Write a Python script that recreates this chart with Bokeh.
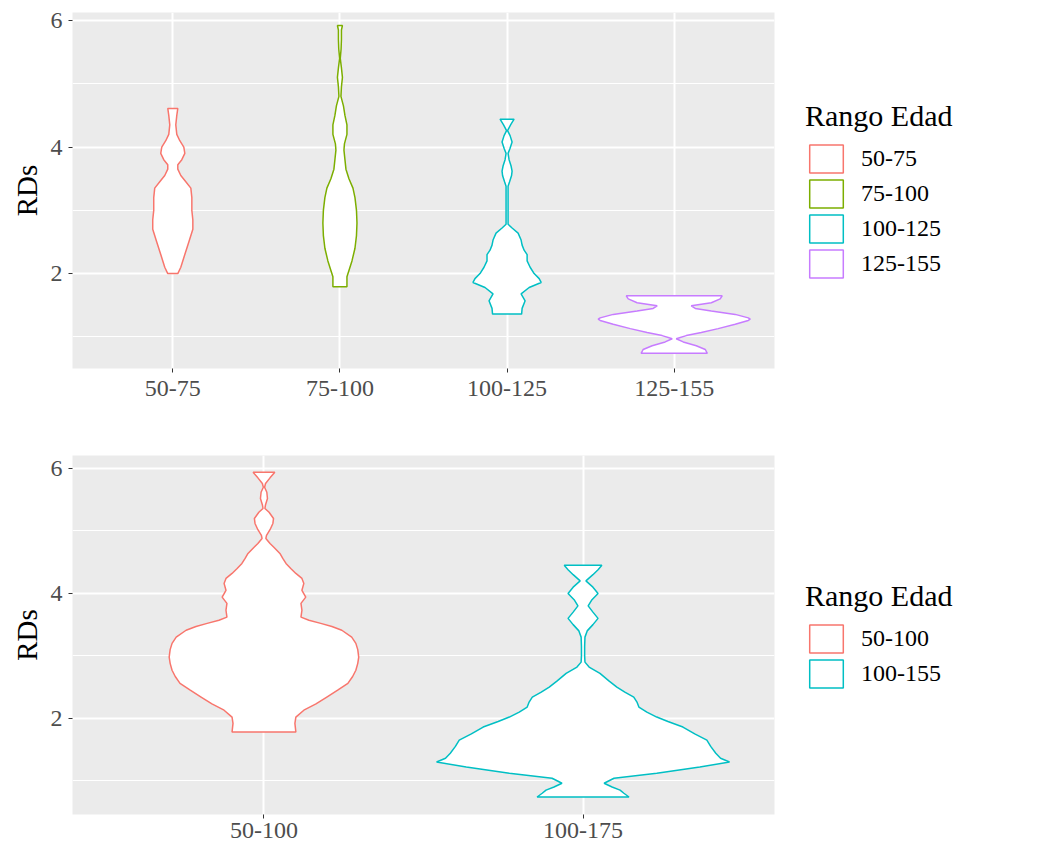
from bokeh.plotting import figure
from bokeh.models import Range1d, FixedTicker, Legend, LegendItem
from bokeh.layouts import column
from bokeh.embed import file_html
from bokeh.resources import INLINE

# ---------------- data ----------------
top_categories = ["50-75", "75-100", "100-125", "125-155"]
top_colors = ["#F8766D", "#7CAE00", "#00BFC4", "#C77CFF"]

# violin outlines: RDs values and half-widths (x-axis units)
v50_75_y = [2.0, 2.1, 2.3, 2.5, 2.7, 2.85, 3.0, 3.2, 3.35, 3.45, 3.55, 3.65, 3.72, 3.8, 3.9, 4.0, 4.1, 4.2, 4.35, 4.5, 4.61]
v50_75_w = [0.030, 0.048, 0.072, 0.096, 0.120, 0.120, 0.114, 0.114, 0.108, 0.078, 0.048, 0.030, 0.030, 0.054, 0.072, 0.066, 0.042, 0.024, 0.018, 0.024, 0.030]

v75_100_y = [1.79, 1.95, 2.05, 2.2, 2.4, 2.6, 2.8, 3.0, 3.2, 3.35, 3.5, 3.65, 3.8, 3.95, 4.05, 4.2, 4.35, 4.5, 4.65, 4.8, 4.95, 5.1, 5.25, 5.4, 5.55, 5.7, 5.85, 5.92]
v75_100_w = [0.042, 0.042, 0.054, 0.072, 0.090, 0.099, 0.102, 0.099, 0.090, 0.078, 0.054, 0.036, 0.030, 0.024, 0.027, 0.042, 0.042, 0.030, 0.021, 0.006, 0.009, 0.015, 0.009, 0.002, 0.007, 0.009, 0.009, 0.015]

v100_125_y = [1.36, 1.45, 1.57, 1.68, 1.78, 1.86, 1.92, 2.0, 2.1, 2.2, 2.3, 2.37, 2.45, 2.53, 2.64, 2.72, 2.78, 2.9, 3.1, 3.3, 3.38, 3.45, 3.55, 3.62, 3.7, 3.8, 3.9, 3.98, 4.08, 4.18, 4.26, 4.35, 4.44]
v100_125_w = [0.087, 0.090, 0.108, 0.084, 0.132, 0.204, 0.192, 0.162, 0.138, 0.120, 0.120, 0.102, 0.090, 0.084, 0.066, 0.030, 0.006, 0.006, 0.006, 0.006, 0.006, 0.015, 0.027, 0.030, 0.024, 0.012, 0.006, 0.018, 0.030, 0.018, 0.003, 0.021, 0.042]

v125_155_y = [0.74, 0.8, 0.86, 0.92, 0.97, 1.02, 1.07, 1.13, 1.2, 1.26, 1.28, 1.3, 1.355, 1.41, 1.45, 1.49, 1.54, 1.6, 1.648]
v125_155_w = [0.198, 0.186, 0.132, 0.054, 0.012, 0.072, 0.162, 0.263, 0.365, 0.443, 0.455, 0.443, 0.365, 0.222, 0.126, 0.102, 0.222, 0.275, 0.287]

bottom_categories = ["50-100", "100-175"]
bottom_legend_labels = ["50-100", "100-155"]
bottom_colors = ["#F8766D", "#00BFC4"]

v50_100_y = [1.78, 1.92, 2.02, 2.13, 2.23, 2.34, 2.45, 2.56, 2.67, 2.77, 2.88, 2.98, 3.1, 3.2, 3.3, 3.41, 3.47, 3.52, 3.57, 3.62, 3.73, 3.84, 3.94, 4.05, 4.16, 4.24, 4.32, 4.4, 4.48, 4.56, 4.64, 4.74, 4.8, 4.88, 4.93, 5.02, 5.12, 5.2, 5.3, 5.36, 5.42, 5.52, 5.62, 5.7, 5.76, 5.85, 5.94]
v50_100_w = [0.100, 0.097, 0.100, 0.125, 0.163, 0.197, 0.231, 0.263, 0.278, 0.288, 0.294, 0.297, 0.294, 0.288, 0.275, 0.244, 0.213, 0.178, 0.141, 0.116, 0.119, 0.116, 0.131, 0.119, 0.125, 0.119, 0.100, 0.084, 0.069, 0.059, 0.050, 0.031, 0.019, 0.006, 0.008, 0.019, 0.028, 0.030, 0.016, 0.003, 0.005, 0.011, 0.009, 0.002, 0.005, 0.019, 0.034]

v100_155_y = [0.74, 0.8, 0.85, 0.9, 0.96, 1.04, 1.12, 1.22, 1.3, 1.36, 1.44, 1.55, 1.65, 1.75, 1.86, 1.95, 2.02, 2.1, 2.18, 2.26, 2.34, 2.42, 2.5, 2.6, 2.72, 2.82, 2.9, 3.0, 3.15, 3.3, 3.4, 3.5, 3.6, 3.7, 3.8, 3.9, 4.0, 4.1, 4.2, 4.3, 4.38, 4.45]
v100_155_w = [0.144, 0.128, 0.116, 0.091, 0.066, 0.097, 0.231, 0.366, 0.459, 0.431, 0.416, 0.400, 0.388, 0.350, 0.313, 0.266, 0.231, 0.200, 0.175, 0.169, 0.159, 0.131, 0.106, 0.081, 0.053, 0.019, 0.006, 0.005, 0.005, 0.006, 0.013, 0.031, 0.047, 0.031, 0.016, 0.028, 0.047, 0.031, 0.009, 0.031, 0.047, 0.059]

y_ticks = [2, 4, 6]
y_minor = [1, 3, 5]

FONT = "Liberation Serif"


def outline(center, ys, ws):
    xs = [center + w for w in ws] + [center - w for w in reversed(ws)]
    yy = list(ys) + list(reversed(ys))
    return xs, yy


def make_panel(categories, profiles, colors, legend_labels, y_lo, y_hi,
               frame_h, border_top, border_bottom, label_standoff):
    n = len(categories)
    p = figure(frame_width=702, frame_height=frame_h,
               x_range=Range1d(0.4, n + 0.6), y_range=Range1d(y_lo, y_hi),
               min_border_left=72, min_border_right=262,
               min_border_top=border_top, min_border_bottom=border_bottom,
               output_backend="svg", toolbar_location=None)
    p.background_fill_color = "#EBEBEB"
    p.border_fill_color = "white"
    p.outline_line_color = None

    items = []
    for i, ((ys, ws), col, lab) in enumerate(zip(profiles, colors, legend_labels)):
        xs, yy = outline(i + 1, ys, ws)
        r = p.patch(xs, yy, fill_color="white", line_color=col, line_width=1.5)
        items.append(LegendItem(label=lab, renderers=[r]))

    p.xaxis.ticker = FixedTicker(ticks=list(range(1, n + 1)))
    p.xaxis.major_label_overrides = {i + 1: c for i, c in enumerate(categories)}
    p.yaxis.ticker = FixedTicker(ticks=y_ticks, minor_ticks=y_minor)
    p.yaxis.axis_label = "RDs"

    for ax in (p.xaxis, p.yaxis):
        ax.axis_line_color = None
        ax.major_tick_line_color = "#333333"
        ax.major_tick_out = 4
        ax.major_tick_in = 0
        ax.minor_tick_line_color = None
        ax.major_label_text_font = FONT
        ax.major_label_text_font_size = "24px"
        ax.major_label_text_color = "#4D4D4D"
    p.xaxis.major_label_standoff = label_standoff
    p.yaxis.major_label_standoff = 6
    p.yaxis.axis_label_text_font = FONT
    p.yaxis.axis_label_text_font_size = "29px"
    p.yaxis.axis_label_text_font_style = "normal"
    p.yaxis.axis_label_text_color = "black"
    p.yaxis.axis_label_standoff = 5

    p.xgrid.grid_line_color = "white"
    p.xgrid.grid_line_width = 2
    p.ygrid.grid_line_color = "white"
    p.ygrid.grid_line_width = 2
    p.ygrid.minor_grid_line_color = "white"
    p.ygrid.minor_grid_line_width = 1

    leg = Legend(items=items, title="Rango Edad", location="center_left")
    leg.title_text_font = FONT
    leg.title_text_font_size = "30px"
    leg.title_text_font_style = "normal"
    leg.title_text_color = "black"
    leg.title_standoff = 8
    leg.label_text_font = FONT
    leg.label_text_font_size = "24px"
    leg.label_text_color = "black"
    leg.glyph_width = 42
    leg.glyph_height = 35
    leg.label_height = 35
    leg.spacing = 0
    leg.label_standoff = 14
    leg.padding = 0
    leg.margin = 31
    leg.border_line_color = None
    leg.background_fill_alpha = 0
    p.add_layout(leg, "right")
    return p


p1 = make_panel(top_categories,
                [(v50_75_y, v50_75_w), (v75_100_y, v75_100_w),
                 (v100_125_y, v100_125_w), (v125_155_y, v125_155_w)],
                top_colors, top_categories, 0.5, 6.126, 356, 12, 50, 8)

p2 = make_panel(bottom_categories,
                [(v50_100_y, v50_100_w), (v100_155_y, v100_155_w)],
                bottom_colors, bottom_legend_labels, 0.46, 6.208, 359, 37, 28, 4)

layout = column(p1, p2, spacing=0)
open("out.html", "w").write(file_html(layout, INLINE))
